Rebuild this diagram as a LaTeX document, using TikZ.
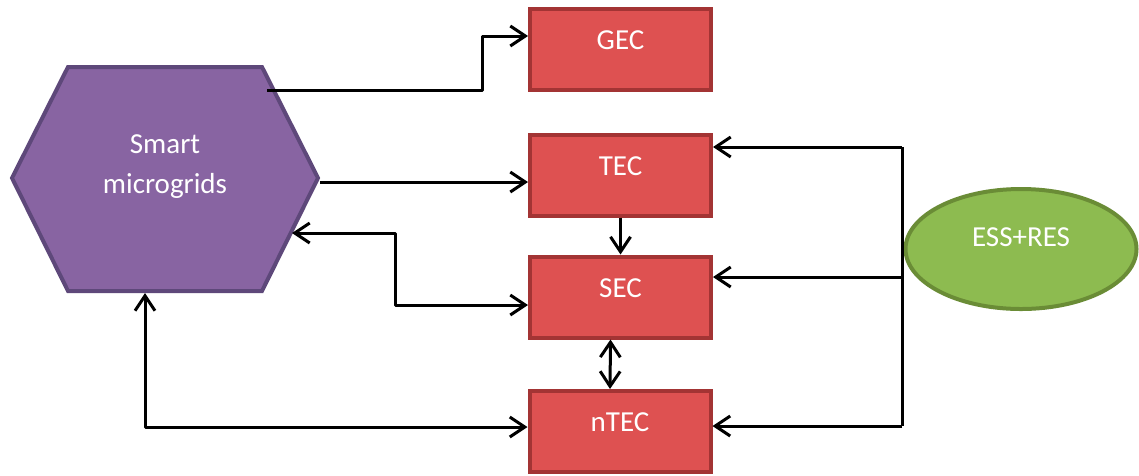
\documentclass[tikz,border=0pt]{standalone}
\usepackage{fontspec}
\setmainfont{Carlito}
\usetikzlibrary{arrows.meta,shapes.geometric}
\definecolor{boxfill}{RGB}{222,81,81}
\definecolor{boxline}{RGB}{163,52,52}
\definecolor{hexfill}{RGB}{136,100,162}
\definecolor{hexline}{RGB}{94,72,122}
\definecolor{essfill}{RGB}{141,187,80}
\definecolor{essline}{RGB}{106,140,54}
\tikzset{
  lbl/.style={text=white, font=\fontsize{29}{40}\selectfont},
  ctrl/.style={lbl, draw=boxline, fill=boxfill, line width=4pt, minimum width=181pt,
    minimum height=81pt, inner sep=0pt, text height=19pt, text depth=19pt},
  conn/.style={line width=3pt, line join=round},
  fwd/.style={conn, -{Straight Barb[length=15pt,width=20pt]}},
  bck/.style={conn, {Straight Barb[length=15pt,width=20pt]}-},
  both/.style={conn, {Straight Barb[length=15pt,width=20pt]}-{Straight Barb[length=15pt,width=20pt]}}
}
\begin{document}
\begin{tikzpicture}[x=1pt,y=-1pt]
\useasboundingbox (0,0) rectangle (1139,475);
% hexagon
\draw[hexline, fill=hexfill, line width=4pt, line join=miter]
  (12,178) -- (68,67) -- (262,67) -- (318,178) -- (262,291) -- (68,291) -- cycle;
\node[lbl, align=center] (smg) at (165,166.5) {Smart\\microgrids};
\coordinate (hA) at (267,90);
\coordinate (hR) at (320,182);
\coordinate (hS) at (292,233);
\coordinate (hB) at (145,293);
% controllers
\node[ctrl] (gec) at (620.5,49.5) {GEC};
\node[ctrl] (tec) at (620.5,175) {TEC};
\node[ctrl] (sec) at (620.5,297) {SEC};
\node[ctrl] (ntec) at (620,431.5) {nTEC};
% ESS+RES
\node[lbl, ellipse, draw=essline, fill=essfill, line width=4pt, minimum width=231pt,
  minimum height=120pt, inner sep=0pt, text height=19pt, text depth=25pt] (ess) at (1021,249) {ESS+RES};
% connectors from smart microgrids
\coordinate (g1) at (482,36);
\draw[fwd] (hA) -| (g1) -- (g1 -| gec.west);
\draw[fwd] (hR) -- (hR -| tec.west);
\coordinate (s1) at (395,305);
\draw[both] (hS) -| (s1) -- (s1 -| sec.west);
\coordinate (n1) at (145,427);
\draw[both] (hB) -- (n1) -- (n1 -| ntec.west);
% between controllers
\draw[fwd] (tec.south) -- (sec.north);
\draw[both] ([xshift=-10pt]sec.south) -- ([xshift=-10pt]ntec.north);
% bus from ESS+RES
\coordinate (b1) at (902,147);
\coordinate (b2) at (902,277);
\coordinate (b3) at (902,426);
\draw[conn] (b1) -- (b3);
\draw[conn] (ess.west) -- (ess.west -| b1);
\draw[fwd] (b1) -- (b1 -| tec.east);
\draw[fwd] (b2) -- (b2 -| sec.east);
\draw[fwd] (b3) -- (b3 -| ntec.east);
\end{tikzpicture}
\end{document}
